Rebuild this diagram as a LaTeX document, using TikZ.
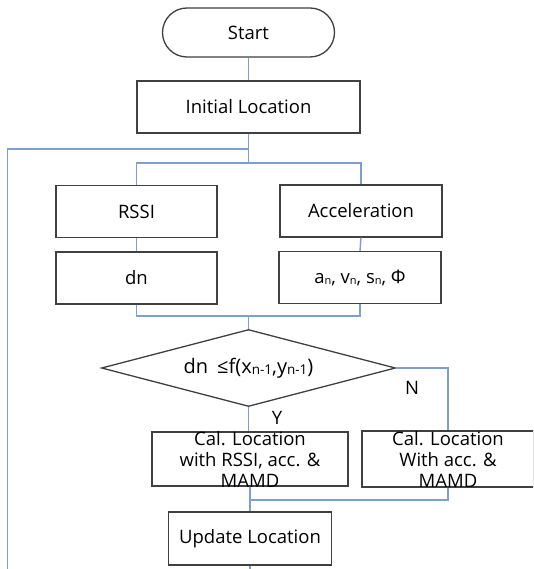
\documentclass[tikz,border=0pt]{standalone}
\usepackage{fontspec}
\setmainfont{Open Sans}
\usetikzlibrary{shapes.geometric}
\definecolor{boxgray}{RGB}{64,64,64}
\definecolor{linkblue}{RGB}{125,160,210}
\newcommand{\subn}[1]{\raisebox{-1.2pt}{\fontsize{11}{11}\selectfont #1}}
\newcommand{\subd}[1]{\raisebox{-0.8pt}{\fontsize{13.5}{13.5}\selectfont #1}}
\begin{document}
\begin{tikzpicture}[x=1pt,y=-1pt,
  box/.style={draw=boxgray, line width=1.3pt, rectangle, inner sep=0pt, font=\fontsize{18.5}{21}\selectfont},
  conn/.style={draw=linkblue, line width=1.4pt},
  lbl/.style={font=\fontsize{18.5}{21}\selectfont, inner sep=0pt}]
\useasboundingbox (0,0) rectangle (533,569);
\clip (0,0) rectangle (533,569);
\fill[white] (0,0) rectangle (533,569);
% nodes
\node[box, minimum width=172, minimum height=49, rounded corners=24.5] (start) at (248.5,32.5) {Start};
\node[box, minimum width=223, minimum height=52] (init) at (248.5,107) {Initial Location};
\node[box, minimum width=161, minimum height=52] (rssi) at (136.5,211.5) {RSSI};
\node[box, minimum width=162, minimum height=52] (acc) at (361,211) {Acceleration};
\node[box, minimum width=161, minimum height=52] (dn) at (136.5,278) {dn};
\node[box, minimum width=162, minimum height=52] (an) at (360,277.5) {a\subn{n}, v\subn{n}, s\subn{n}, Φ};
\node[box, shape=diamond, aspect=3.8, minimum width=294, minimum height=77, font=\fontsize{20}{22}\selectfont] (dec) at (248.5,368) {dn\hspace{9pt}≤f(x\subd{n-1},y\subd{n-1})};
\node[box, minimum width=196, minimum height=54] (cal1) at (250,459) {};
\node[lbl, align=center] at (cal1.center) {Cal. Location\\with RSSI, acc. \&\\MAMD};
\node[box, minimum width=172, minimum height=56] (cal2) at (448,459) {};
\node[lbl, align=center] at (cal2.center) {Cal. Location\\With acc. \&\\MAMD};
\node[box, minimum width=163, minimum height=53] (upd) at (250,538.5) {Update Location};
\node[lbl] (nlab) at (412,388) {N};
\node[lbl] (ylab) at (277,418) {Y};
% coordinates
\coordinate (loopleft) at (7.5,149);
\coordinate (loopbot) at (7.5,570);
\coordinate (split) at (248.5,163);
\coordinate (merge) at (248.5,316);
\coordinate (merge2) at (250,500);
\coordinate (endpt) at (250,570);
% connectors
\draw[conn] (start.south) -- (init.north);
\draw[conn] (init.south) |- (loopleft) -- (loopbot);
\draw[conn] (init.south) -- (split);
\draw[conn] (rssi.north) |- (split) -| (acc.north);
\draw[conn] (rssi.south) -- (dn.north);
\draw[conn] (acc.south) -- (an.north);
\draw[conn] (dn.south) |- (merge) -| (an.south);
\draw[conn] (merge) -- (dec.north);
\draw[conn] (dec.south) -- (dec.south |- cal1.north);
\draw[conn] (dec.east) -| (cal2.north);
\draw[conn] (cal1.south) |- (merge2) -| (cal2.south);
\draw[conn] (merge2) -- (upd.north);
\draw[conn] (upd.south) -- (endpt);
\end{tikzpicture}
\end{document}
